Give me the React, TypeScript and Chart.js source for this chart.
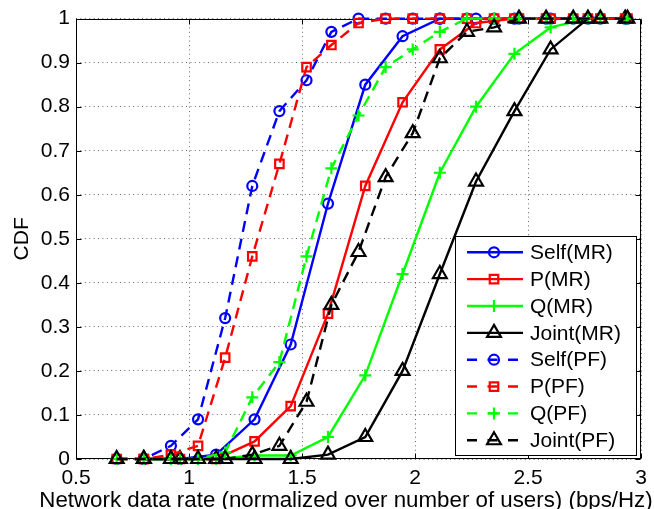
import React, { useEffect, useRef } from 'react';
import { Chart, registerables } from 'chart.js';

Chart.register(...registerables);

const FONT = "'Liberation Sans', Arial, Helvetica, sans-serif";
const FS = 21;
const TITLE_FS = 22.3;

const xTickValues = [0.5, 1, 1.5, 2, 2.5, 3];
const yTickValues = [0, 0.1, 0.2, 0.3, 0.4, 0.5, 0.6, 0.7, 0.8, 0.9, 1];
const xTickLabels = ['0.5', '1', '1.5', '2', '2.5', '3'];
const yTickLabels = ['0', '0.1', '0.2', '0.3', '0.4', '0.5', '0.6', '0.7', '0.8', '0.9', '1'];

const seriesLabels = ['Self(MR)', 'P(MR)', 'Q(MR)', 'Joint(MR)', 'Self(PF)', 'P(PF)', 'Q(PF)', 'Joint(PF)'];
const seriesColors = ['#0000ff', '#ff0000', '#00ff00', '#000000', '#0000ff', '#ff0000', '#00ff00', '#000000'];
const seriesMarkers = ['circle', 'rect', 'cross', 'triangle', 'circle', 'rect', 'cross', 'triangle'];

// x positions of the evaluated points
const mrX = [0.8, 0.96, 1.12, 1.29, 1.45, 1.615, 1.78, 1.945, 2.11, 2.27, 2.44, 2.6, 2.765, 2.93];
const pfX = [0.68, 0.8, 0.92, 1.04, 1.16, 1.28, 1.4, 1.52, 1.63, 1.75, 1.87, 1.99, 2.11, 2.23, 2.35, 2.46, 2.58, 2.7, 2.82, 2.94];

// CDF values (MR schemes)
const selfMR = [0, 0, 0.01, 0.09, 0.26, 0.58, 0.85, 0.96, 1, 1, 1, 1, 1, 1];
const pMR = [0, 0, 0, 0.04, 0.12, 0.33, 0.62, 0.81, 0.93, 0.99, 1, 1, 1, 1];
const qMR = [0, 0, 0, 0.008, 0.008, 0.05, 0.19, 0.42, 0.65, 0.8, 0.92, 0.98, 1, 1];
const jointMR = [0, 0, 0, 0, 0, 0.01, 0.05, 0.2, 0.42, 0.63, 0.79, 0.93, 1, 1];

// CDF values (PF schemes)
const selfPF = [0, 0, 0.03, 0.09, 0.32, 0.62, 0.79, 0.86, 0.97, 1, 1, 1, 1, 1, 1, 1, 1, 1, 1, 1];
const pPF = [0, 0, 0.01, 0.03, 0.23, 0.46, 0.67, 0.89, 0.94, 0.99, 1, 1, 1, 1, 1, 1, 1, 1, 1, 1];
const qPF = [0, 0, 0, 0, 0.015, 0.14, 0.22, 0.46, 0.66, 0.78, 0.89, 0.93, 0.97, 1, 1, 1, 1, 1, 1, 1];
const jointPF = [0, 0, 0, 0, 0, 0.01, 0.03, 0.13, 0.35, 0.47, 0.64, 0.74, 0.91, 0.97, 0.98, 1, 1, 1, 1, 1];

const seriesX = [mrX, mrX, mrX, mrX, pfX, pfX, pfX, pfX];
const seriesY = [selfMR, pMR, qMR, jointMR, selfPF, pPF, qPF, jointPF];

const xTitle = 'Network data rate (normalized over number of users) (bps/Hz)';
const yTitle = 'CDF';

const markerRadius: Record<string, number> = { circle: 5, rect: 6, cross: 6, triangle: 8 };
const DASH = [11, 7];

function drawMarker(ctx: CanvasRenderingContext2D, style: string, x: number, y: number, r: number) {
  ctx.beginPath();
  if (style === 'circle') {
    ctx.arc(x, y, r, 0, Math.PI * 2);
  } else if (style === 'rect') {
    const s = r * Math.SQRT1_2;
    ctx.rect(x - s, y - s, 2 * s, 2 * s);
  } else if (style === 'cross') {
    ctx.moveTo(x - r, y);
    ctx.lineTo(x + r, y);
    ctx.moveTo(x, y - r);
    ctx.lineTo(x, y + r);
  } else if (style === 'triangle') {
    let rad = 0;
    ctx.moveTo(x + Math.sin(rad) * r, y - Math.cos(rad) * r);
    rad += (2 * Math.PI) / 3;
    ctx.lineTo(x + Math.sin(rad) * r, y - Math.cos(rad) * r);
    rad += (2 * Math.PI) / 3;
    ctx.lineTo(x + Math.sin(rad) * r, y - Math.cos(rad) * r);
    ctx.closePath();
  }
  ctx.stroke();
}

const framePlugin = {
  id: 'matlabFrame',
  beforeDatasetsDraw(chart: any) {
    const { ctx, chartArea } = chart;
    const { left, right, top, bottom } = chartArea;
    ctx.save();
    ctx.strokeStyle = '#000';
    ctx.lineWidth = 1;
    ctx.setLineDash([]);
    const L = Math.round(left) + 0.5;
    const R = Math.round(right) - 0.5;
    const T = Math.round(top) + 0.5;
    const B = Math.round(bottom) - 0.5;
    ctx.strokeRect(L, T, R - L, B - T);
    const tl = 5;
    ctx.beginPath();
    for (const v of xTickValues) {
      const px = Math.round(chart.scales.x.getPixelForValue(v)) + 0.5;
      ctx.moveTo(px, B);
      ctx.lineTo(px, B - tl);
      ctx.moveTo(px, T);
      ctx.lineTo(px, T + tl);
    }
    for (const v of yTickValues) {
      const py = Math.round(chart.scales.y.getPixelForValue(v)) + 0.5;
      ctx.moveTo(L, py);
      ctx.lineTo(L + tl, py);
      ctx.moveTo(R, py);
      ctx.lineTo(R - tl, py);
    }
    ctx.stroke();
    ctx.restore();
  },
  afterDraw(chart: any) {
    const { ctx, chartArea } = chart;
    ctx.save();
    // axis titles
    ctx.fillStyle = '#000';
    ctx.font = `${TITLE_FS}px ${FONT}`;
    ctx.textAlign = 'center';
    ctx.textBaseline = 'alphabetic';
    ctx.fillText(xTitle, 346, 507);
    ctx.font = `${FS}px ${FONT}`;
    ctx.save();
    ctx.translate(28, (chartArea.top + chartArea.bottom) / 2);
    ctx.rotate(-Math.PI / 2);
    ctx.textBaseline = 'alphabetic';
    ctx.fillText(yTitle, 0, 0);
    ctx.restore();

    // legend box
    const bx = 455.5, by = 236.5, bw = 181, bh = 219;
    ctx.fillStyle = '#fff';
    ctx.fillRect(bx, by, bw, bh);
    ctx.strokeStyle = '#000';
    ctx.lineWidth = 1;
    ctx.setLineDash([]);
    ctx.strokeRect(bx, by, bw, bh);
    const rowY0 = 252.3, rowStep = 26.85;
    const lx1 = 467, lx2 = 523, mx = 494, tx = 530;
    chart.data.datasets.forEach((ds: any, i: number) => {
      const y = rowY0 + rowStep * i;
      ctx.strokeStyle = ds.borderColor;
      ctx.lineWidth = ds.borderWidth;
      ctx.setLineDash(ds.borderDash && ds.borderDash.length ? [10, 10.5] : []);
      ctx.beginPath();
      ctx.moveTo(lx1, y);
      ctx.lineTo(lx2, y);
      ctx.stroke();
      ctx.setLineDash([]);
      ctx.lineWidth = ds.pointBorderWidth;
      drawMarker(ctx, ds.pointStyle, mx, y, ds.pointRadius);
      ctx.fillStyle = '#000';
      ctx.font = `${FS}px ${FONT}`;
      ctx.textAlign = 'left';
      ctx.textBaseline = 'middle';
      ctx.fillText(ds.label, tx, y + 1);
    });
    ctx.restore();
  },
};

export default function App() {
  const canvasRef = useRef<HTMLCanvasElement | null>(null);

  useEffect(() => {
    if (!canvasRef.current) return;
    const datasets = seriesLabels.map((label, i) => ({
      label,
      data: seriesX[i].map((x, k) => ({ x, y: seriesY[i][k] })),
      borderColor: seriesColors[i],
      backgroundColor: 'rgba(0,0,0,0)',
      borderWidth: 2.4,
      borderDash: i >= 4 ? DASH : [],
      pointStyle: seriesMarkers[i],
      pointRadius: markerRadius[seriesMarkers[i]],
      pointBorderWidth: 2.2,
      pointBorderColor: seriesColors[i],
      pointBackgroundColor: 'rgba(0,0,0,0)',
      fill: false,
      tension: 0,
      clip: false as any,
      order: seriesLabels.length - i,
    }));

    const chart = new Chart(canvasRef.current, {
      type: 'line',
      data: { datasets },
      options: {
        animation: false,
        responsive: false,
        events: [],
        layout: { padding: { left: 0, top: 15, right: 13, bottom: 0 } },
        plugins: { legend: { display: false }, tooltip: { enabled: false }, title: { display: false } },
        scales: {
          x: {
            type: 'linear',
            min: 0.5,
            max: 3,
            afterBuildTicks: (scale: any) => {
              scale.ticks = xTickValues.map((v) => ({ value: v }));
            },
            afterFit: (scale: any) => {
              scale.height = 50;
            },
            ticks: {
              color: '#000',
              font: { family: FONT, size: FS },
              padding: 7,
              maxRotation: 0,
              autoSkip: false,
              callback: (v: any) => {
                const idx = xTickValues.indexOf(Number(v));
                return idx >= 0 ? xTickLabels[idx] : '';
              },
            },
            grid: { color: 'rgba(0,0,0,0.6)', lineWidth: 1, drawTicks: false },
            border: { display: false, dash: [1, 3.4] },
          },
          y: {
            type: 'linear',
            min: 0,
            max: 1,
            afterBuildTicks: (scale: any) => {
              scale.ticks = yTickValues.map((v) => ({ value: v }));
            },
            afterFit: (scale: any) => {
              scale.width = 76;
            },
            ticks: {
              color: '#000',
              font: { family: FONT, size: FS },
              padding: 6,
              autoSkip: false,
              callback: (v: any) => {
                const idx = yTickValues.findIndex((t) => Math.abs(t - Number(v)) < 1e-9);
                return idx >= 0 ? yTickLabels[idx] : '';
              },
            },
            grid: { color: 'rgba(0,0,0,0.6)', lineWidth: 1, drawTicks: false },
            border: { display: false, dash: [1, 3.4] },
          },
        },
      },
      plugins: [framePlugin],
    } as any);
    return () => chart.destroy();
  }, []);

  return (
    <div style={{ position: 'absolute', left: 0, top: 0, width: 654, height: 509, background: '#fff' }}>
      <canvas ref={canvasRef} width={654} height={509} style={{ display: 'block' }} />
    </div>
  );
}
